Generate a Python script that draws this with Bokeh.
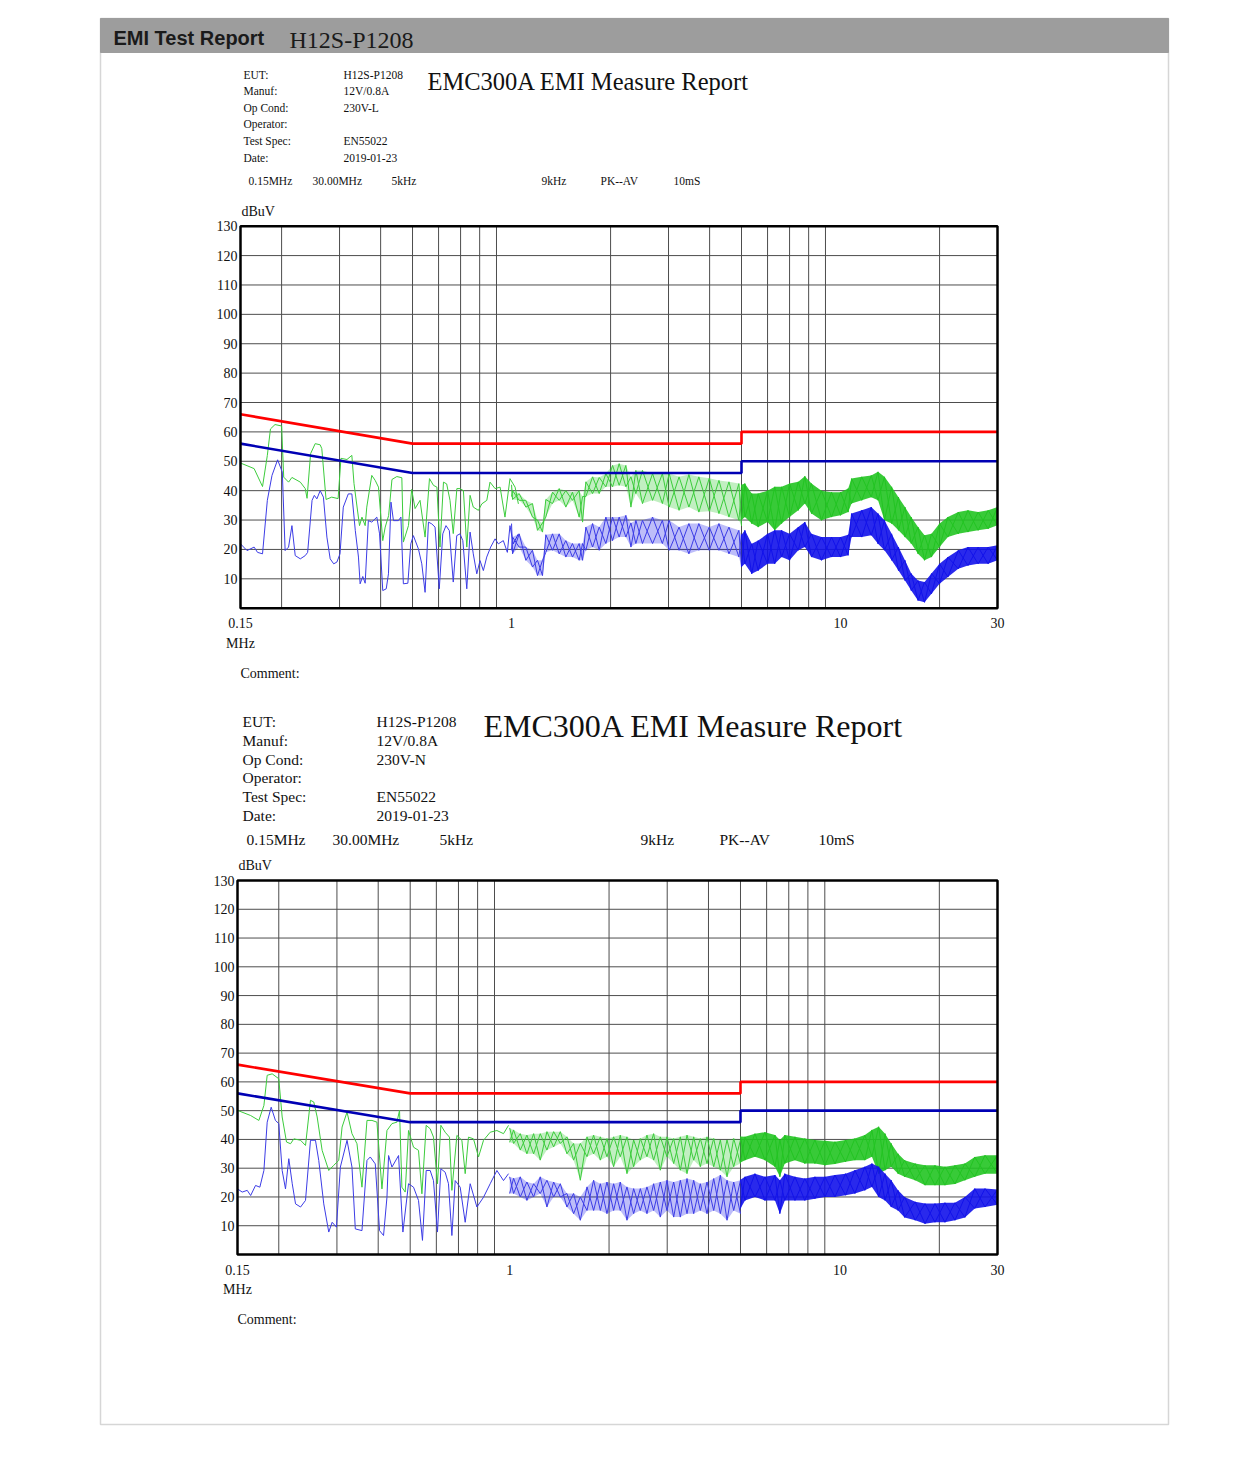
import math
from bokeh.plotting import figure
from bokeh.models import Range1d, LogScale
from bokeh.core.properties import value
from bokeh.embed import file_html
from bokeh.resources import INLINE

# ---------------- data ----------------
# EN55022 class B limits (QP red, AV blue)
LIM_F = [0.15, 0.5, 5.0, 5.0, 30.0]
LIM_QP = [66, 56, 56, 60, 60]
LIM_AV = [56, 46, 46, 50, 50]

GRID_F = [0.2, 0.3, 0.4, 0.5, 0.6, 0.7, 0.8, 0.9, 2, 3, 4, 5, 6, 7, 8, 9, 20]
GRID_DB = [10, 20, 30, 40, 50, 60, 70, 80, 90, 100, 110, 120]
Y_TICKS = [10, 20, 30, 40, 50, 60, 70, 80, 90, 100, 110, 120, 130]
X_TICKS = [0.15, 1, 10, 30]
X_TICK_LABELS = ["0.15", "1", "10", "30"]

# ---- chart 1 (230V-L): 0.15-1 MHz single sweeps ----
G1_F = [0.15, 0.157, 0.165, 0.175, 0.181, 0.185, 0.191, 0.200, 0.203, 0.210, 0.215, 0.228, 0.236, 0.239,
        0.245, 0.253, 0.262, 0.265, 0.273, 0.284, 0.297, 0.303, 0.316, 0.327, 0.332, 0.345, 0.351, 0.359,
        0.363, 0.376, 0.385, 0.394, 0.406, 0.413, 0.423, 0.433, 0.448, 0.464, 0.469, 0.486, 0.497, 0.509,
        0.527, 0.546, 0.563, 0.579, 0.593, 0.606, 0.621, 0.635, 0.650, 0.665, 0.682, 0.697, 0.714, 0.731,
        0.748, 0.765, 0.793, 0.812, 0.841, 0.860, 0.891, 0.923, 0.955, 0.989, 1.025, 1.049]
G1_V = [49.4, 48.5, 47.5, 41.4, 52, 61, 62.5, 62, 44.6, 42.9, 44.5, 42.9, 40.7, 37.4,
        52.6, 56, 55.6, 54.3, 37, 37.8, 37.3, 51, 50.6, 52, 42.4, 28.1, 31, 28.1,
        34.4, 45.2, 43.5, 41.2, 23, 27.6, 31.5, 43.8, 44.8, 44.4, 22.5, 28.1, 40.4, 33.9,
        36.7, 24.2, 44.1, 41.8, 41.2, 20.8, 42.9, 42.3, 36.7, 25.4, 40.7, 40.7, 40, 20.8,
        38.4, 34.4, 33.3, 35.5, 36.7, 42.9, 40.7, 41.2, 31, 44.1, 41.2, 35.5]
B1_F = [0.15, 0.157, 0.165, 0.169, 0.175, 0.181, 0.187, 0.1945, 0.201, 0.205, 0.210, 0.215, 0.220, 0.228,
        0.236, 0.240, 0.2475, 0.2515, 0.256, 0.262, 0.268, 0.2746, 0.281, 0.288, 0.2945, 0.301, 0.308, 0.319,
        0.327, 0.335, 0.3425, 0.3465, 0.353, 0.359, 0.367, 0.376, 0.3895, 0.397, 0.406, 0.416, 0.4225, 0.430,
        0.4375, 0.453, 0.461, 0.469, 0.484, 0.494, 0.503, 0.521, 0.5335, 0.546, 0.559, 0.572, 0.5855, 0.603,
        0.618, 0.632, 0.647, 0.665, 0.6815, 0.697, 0.711, 0.731, 0.748, 0.765, 0.784, 0.802, 0.821, 0.8405,
        0.864, 0.891, 0.9115, 0.944, 0.971, 0.989, 1.012, 1.049]
B1_V = [21.9, 19.6, 20.8, 19, 18.5, 36.7, 45.2, 50.5, 46.3, 19.6, 20.8, 28.1, 17.9, 16.8,
        17.9, 19, 36.7, 38.4, 37.2, 40, 37.8, 24.2, 16.8, 15.1, 15.7, 18.5, 34.4, 38.9,
        38.9, 26.4, 17.4, 8.3, 10.8, 8.5, 29.8, 29.3, 31, 25.3, 6, 6.6, 11.7, 36.1,
        29.8, 29.8, 31, 8.3, 8.5, 21.9, 24.7, 20.2, 15.1, 5.4, 29.3, 28.7, 27.6, 6.6,
        25.3, 28.1, 26.4, 8.9, 24.7, 25.3, 23, 6.6, 25.9, 18.5, 11.7, 16.2, 12.8, 17.4,
        20.8, 23.6, 21.9, 23, 19, 28.1, 21.9, 25.3]
# chart 1, 1-5 MHz: upper / lower extremes of the noisy sweep
A1_F = [1.0, 1.007, 1.055, 1.105, 1.158, 1.199, 1.242, 1.271, 1.332, 1.396, 1.462, 1.532, 1.605, 1.644,
        1.682, 1.763, 1.847, 1.935, 2.028, 2.124, 2.226, 2.306, 2.387, 2.500, 2.683, 2.874, 3.014, 3.23,
        3.46, 3.71, 3.99, 4.27, 4.58, 4.91, 5.0]
A1_GHI = [42, 40, 39, 36.7, 35.6, 30, 29, 37, 39.5, 40.7, 40, 39.5, 40, 38, 43, 44.7, 44.5, 45.8, 48.6, 49.2,
          48.6, 44.7, 46.9, 46.9, 45.8, 45.8, 45.8, 44.7, 45.5, 44.7, 44.2, 43.5, 43, 42.4, 40]
A1_GLO = [38, 37, 36.7, 34.4, 31, 26.5, 25.9, 31, 35.6, 36.7, 34.4, 36.7, 31, 29.3, 38, 39, 39, 41.3, 41.3,
          41.8, 41.3, 34.4, 39, 35.6, 36.7, 35.6, 34.4, 33.3, 34.4, 32.7, 33, 32.2, 31, 29.9, 28]
A1_BHI = [28.8, 24.2, 25.3, 20.8, 19.7, 16.3, 16.3, 25, 25.3, 25.3, 23, 22, 22, 22, 27.6, 28.8, 27.6, 31, 31,
          31, 31.6, 29, 29.9, 29.9, 31, 29.9, 29.9, 27.6, 28.8, 28.8, 27.6, 28.8, 27.6, 26.5, 25]
A1_BLO = [19.7, 18.5, 20.8, 16.3, 14, 11.1, 11.1, 19, 19.7, 18.5, 17.4, 17.4, 16.3, 16.3, 19.7, 20.8, 19.7,
          22, 23, 24.2, 24.2, 20.8, 22, 22, 22, 22, 19.7, 19.7, 18.5, 19.7, 19.7, 19.7, 18.5, 17.4, 14]
# chart 1, 5-30 MHz: dense band extremes
D1_F = [5.0, 5.12, 5.37, 5.62, 6.0, 6.31, 6.62, 7.0, 7.44, 7.79, 8.16, 8.75, 9.39, 10.0, 10.55, 10.8, 11.6,
        12.4, 13.0, 13.6, 14.3, 15.0, 15.7, 16.4, 17.2, 18.0, 18.9, 20.0, 21.2, 22.8, 24.4, 26.2, 28.1, 30]
D1_GHI = [42, 42.4, 39, 39, 40, 41.3, 41.3, 42.4, 43, 44.9, 42.4, 40, 39.5, 39.5, 40.7, 44.1, 44.7,
          45.2, 46.4, 44.7, 41.3, 37.8, 34.4, 31, 27.6, 24.8, 25.3, 28.8, 31, 32.7, 33.3, 32.7, 33.3, 34.4]
D1_GLO = [30, 31, 28.8, 27.6, 29.3, 26.5, 28.8, 31, 33.3, 35.6, 32.2, 29.9, 31, 31.6, 32.7, 35.6, 36.7,
          37.8, 36.7, 29.9, 28.8, 26.5, 24.2, 22, 18.5, 16.3, 17.4, 20.8, 24.2, 25.3, 25.9, 26.5, 27, 28.2]
D1_BHI = [25, 26.5, 21.9, 23, 25.3, 26.5, 26.5, 25.3, 27.6, 29.3, 25.3, 24.2, 24.2, 24.2, 25, 32.2, 33.3,
          34.4, 32.2, 29.9, 25.3, 20.8, 16.3, 11.8, 9.4, 8.9, 11.8, 15.1, 17.4, 19.7, 20.8, 20.8, 20.8, 21.4]
D1_BLO = [14, 15.1, 11.7, 12.8, 15.1, 15.1, 17.4, 16.3, 19.7, 20.8, 17.4, 16.3, 17.4, 17.4, 18, 24.2, 24.2,
          24.8, 21.9, 19.7, 16.3, 12.8, 9.4, 6, 2.6, 2, 4.9, 8.3, 10.6, 13.4, 14.5, 15.1, 15.1, 16.3]

# ---- chart 2 (230V-N) ----
G2_F = [0.15, 0.1644, 0.1741, 0.1803, 0.1845, 0.1910, 0.2000, 0.2048, 0.2111, 0.2171, 0.2222, 0.2328,
        0.2410, 0.2495, 0.2553, 0.2614, 0.2706, 0.2834, 0.2934, 0.3038, 0.3110, 0.3219, 0.3332, 0.3450,
        0.3572, 0.3699, 0.3830, 0.3965, 0.4106, 0.4252, 0.4403, 0.4558, 0.4642, 0.4719, 0.4829, 0.4942,
        0.5117, 0.5298, 0.5425, 0.5589, 0.5747, 0.5881, 0.6047, 0.6192, 0.6380, 0.6574, 0.6686, 0.6923,
        0.7169, 0.7336, 0.7507, 0.7773, 0.8051, 0.8336, 0.8733, 0.9150, 0.9582, 0.9925]
G2_V = [50.1, 48.3, 46.6, 51.8, 62.3, 62.8, 61.1, 47.8, 39.1, 38.5, 40.2, 39.7,
        37.9, 53.6, 53, 47.8, 36.2, 29.2, 31, 32.7, 44.3, 49.5, 42, 38.5,
        23.4, 46.6, 46.6, 46, 22.8, 43.1, 45.5, 46, 50.1, 23.4, 21.7, 43.1,
        37.3, 36.2, 21.1, 44.9, 43.7, 40.8, 24.6, 44.9, 42.5, 40.8, 22.3, 41.4,
        39.7, 28.1, 40.8, 40.2, 33.9, 39.7, 42.5, 43.1, 42, 44.9]
B2_F = [0.15, 0.155, 0.1605, 0.1644, 0.1701, 0.1753, 0.1803, 0.1845, 0.1897, 0.1954, 0.2000, 0.2048,
        0.2096, 0.2145, 0.2197, 0.2248, 0.2328, 0.2410, 0.2495, 0.2583, 0.2643, 0.2737, 0.2834, 0.2902,
        0.2990, 0.3073, 0.3219, 0.3332, 0.3410, 0.3572, 0.3699, 0.3785, 0.3919, 0.4038, 0.4152, 0.4252,
        0.4300, 0.4403, 0.4610, 0.4752, 0.4942, 0.5117, 0.5298, 0.5447, 0.5589, 0.5747, 0.5881, 0.6047,
        0.6192, 0.6380, 0.6529, 0.6686, 0.6842, 0.7084, 0.7336, 0.7596, 0.7960, 0.8336, 0.8733, 0.9150,
        0.9582, 0.9925]
B2_V = [22.8, 21.7, 22.3, 20.5, 24, 23.4, 29.2, 46, 51.2, 46.6, 45.5, 29.2,
        22.8, 33.3, 24.6, 17.6, 16.5, 18.8, 39.7, 39.7, 32.7, 17.6, 7.8, 11.2,
        9.5, 30.4, 39.7, 30.4, 8.9, 8.3, 32.7, 33.9, 31.5, 8.3, 6.6, 19.9,
        34.4, 30.4, 34.4, 7.8, 24.6, 23.4, 18.8, 4.9, 29.2, 29.2, 25.7, 7.8,
        29.8, 28.6, 24.6, 6.6, 25.7, 23.4, 11.2, 24.6, 16.5, 19.9, 24.6, 29.2,
        25.7, 28.1]
A2_F = [1.0, 1.028, 1.077, 1.128, 1.182, 1.238, 1.297, 1.359, 1.424, 1.491, 1.562, 1.637, 1.715, 1.796,
        1.882, 1.971, 2.065, 2.163, 2.266, 2.374, 2.487, 2.605, 2.729, 2.859, 2.995, 3.138, 3.287, 3.444,
        3.608, 3.779, 3.959, 4.148, 4.345, 4.552, 4.769, 5.0]
A2_GHI = [44, 43.3, 42, 41.5, 42, 42, 42.7, 42.7, 42.7, 40.9, 38.6, 38.6, 40.9, 41.5, 40.9, 40.3, 40.9, 41.5,
          40.9, 39.8, 40.3, 41.5, 42, 40.9, 40.9, 40.3, 40.9, 41.5, 40.9, 40.3, 40.9, 40.3, 39.8, 39.8, 40.3,
          39.8]
A2_GLO = [39, 38.6, 36.3, 35, 35, 32.8, 36.3, 37.4, 38.6, 35, 32.8, 25.8, 34, 35, 32.8, 34, 30.5, 34, 28.1,
          30.5, 32.8, 34, 32.8, 29.3, 34, 31.6, 29.3, 28.1, 32.8, 30.5, 31.6, 30.5, 29.3, 27, 30.5, 31.6]
A2_BHI = [27, 26.5, 27, 25.2, 24.6, 27, 25.8, 25.2, 24.6, 21.2, 21.2, 20, 23.5, 25.8, 24.6, 25.2, 24.6, 25.2,
          23.5, 22.9, 22.9, 23.5, 24.6, 25.2, 25.8, 25.2, 25.8, 26.4, 25.8, 24.6, 25.2, 26.4, 27.6, 25.8, 25.2,
          25.8]
A2_BLO = [21.2, 21.2, 20, 18.8, 20, 21.2, 16.5, 20, 20, 16.5, 14.2, 11.9, 15.3, 15.3, 15.3, 14.2, 15.3, 15.3,
          11.9, 14.2, 15.3, 14.2, 15.3, 13, 15.3, 13, 13, 14.2, 14.2, 15.3, 14.2, 15.3, 14.2, 11.9, 15.3, 14.2]
D2_F = [5.0, 5.16, 5.53, 5.93, 6.36, 6.58, 6.81, 7.31, 7.83, 8.40, 9.01, 9.66, 10.4, 11.1, 11.9, 12.5, 13.1,
        13.7, 14.3, 15.0, 15.7, 16.9, 18.1, 19.4, 20.8, 22.3, 23.9, 25.6, 27.5, 30]
D2_GHI = [41, 40.9, 42, 42.5, 41.5, 39.8, 41.5, 40.9, 40.3, 39.8, 39.5, 39.2, 39.8, 40.3, 41.5, 43.3, 44.4,
          42, 38.6, 35, 32.8, 31.6, 31, 31, 30.5, 31, 31.6, 33.9, 34.5, 34.5]
D2_GLO = [32, 32.8, 34, 32.8, 30.5, 27, 31.6, 32.8, 31.6, 31.6, 31, 31.5, 32.2, 32.8, 32.8, 34, 28.1,
          29.3, 30.5, 28.1, 27, 25.8, 24.1, 24.1, 24.1, 24.5, 25.8, 27, 28.1, 28.1]
D2_BHI = [26, 27, 28.1, 27, 27.6, 25.8, 28.1, 27, 26.4, 27, 27, 27.6, 28.1, 29.3, 30.5, 31.6, 30.5,
          28.1, 25.8, 22.3, 20, 18.3, 17.7, 17.7, 18, 18, 20, 22.9, 22.9, 22.6]
D2_BLO = [16, 18.8, 20, 18.8, 18.8, 14.2, 18.8, 18.8, 18.8, 19.4, 20, 20, 20.6, 21.2, 22.3, 23.5, 20,
          18.8, 16.5, 15.3, 12.9, 11.9, 10.7, 11.2, 11.2, 11.9, 12.9, 16, 16.5, 17.3]

INFO_LABELS = ["EUT:", "Manuf:", "Op Cond:", "Operator:", "Test Spec:", "Date:"]
INFO1_VALUES = ["H12S-P1208", "12V/0.8A", "230V-L", "", "EN55022", "2019-01-23"]
INFO2_VALUES = ["H12S-P1208", "12V/0.8A", "230V-N", "", "EN55022", "2019-01-23"]
PARAMS = ["0.15MHz", "30.00MHz", "5kHz", "9kHz", "PK--AV", "10mS"]

# ---------------- page figure ----------------
W, H = 1236, 1452
OX, OY = 0, 0
p = figure(width=W, height=H, output_backend="svg", toolbar_location=None,
           x_range=Range1d(OX, OX + W), y_range=Range1d(OY + H, OY),
           x_axis_location=None, y_axis_location=None, min_border=0)
p.outline_line_color = None
p.grid.grid_line_color = None
p.background_fill_color = "white"
p.border_fill_color = "white"

SERIF = value("Liberation Serif")
GREEN = "#22c422"
BLUE = "#1212ea"

# page border and header bar
p.quad(left=[100], right=[1168], top=[18], bottom=[1424], fill_color=None,
       line_color="#d6d6d6", line_width=1.5)
p.quad(left=[100], right=[1168], top=[18], bottom=[52], fill_color="#9d9d9d",
       line_color="#9d9d9d")
p.text(x=[113], y=[37], text=["EMI Test Report"], text_font=value("Liberation Sans"),
       text_font_style="bold", text_font_size="20px", text_color="#1a1a1a",
       text_baseline="middle", text_align="left")
p.text(x=[289], y=[39], text=["H12S-P1208"], text_font=SERIF,
       text_font_size="24px", text_color="#1a1a1a", text_baseline="middle", text_align="left")


def zigzags(f, hi, lo):
    """Two crossing sweeps through the read extremes: hi,lo,hi,... and lo,hi,lo,..."""
    ya = [hi[i] if i % 2 == 0 else lo[i] for i in range(len(f))]
    yb = [lo[i] if i % 2 == 0 else hi[i] for i in range(len(f))]
    return ya, yb


def chart(idx, L, R, T, B, info_vals, info_x, info_y, info_dy, info_size, col2_x,
          title_xy, title_size, param_x, param_y, lab_size,
          gf, gv, bf, bv, af, aghi, aglo, abhi, ablo, df, dghi, dglo, dbhi, dblo):
    fr, dr = "f%d" % idx, "d%d" % idx
    k = (R - L) / math.log10(30 / 0.15)
    fs = 10 ** (math.log10(0.15) - (L - OX) / k)
    fe = 10 ** (math.log10(30) + (OX + W - R) / k)
    s = (B - T) / 130.0
    d_bot = 0 - (OY + H - B) / s
    d_top = 130 + (T - OY) / s
    p.extra_x_ranges[fr] = Range1d(fs, fe)
    p.extra_x_scales[fr] = LogScale()
    p.extra_y_ranges[dr] = Range1d(d_bot, d_top)
    kw = dict(x_range_name=fr, y_range_name=dr)

    # info block
    ys = [info_y + i * info_dy for i in range(len(INFO_LABELS))]
    p.text(x=[info_x] * len(ys), y=ys, text=INFO_LABELS, text_font=SERIF,
           text_font_size=info_size, text_baseline="middle", text_align="left", text_color="#111111")
    p.text(x=[col2_x] * len(ys), y=ys, text=info_vals, text_font=SERIF,
           text_font_size=info_size, text_baseline="middle", text_align="left", text_color="#111111")
    p.text(x=[title_xy[0]], y=[title_xy[1]], text=["EMC300A EMI Measure Report"], text_font=SERIF,
           text_font_size=title_size, text_baseline="middle", text_align="left", text_color="#111111")
    p.text(x=param_x, y=[param_y] * len(param_x), text=PARAMS, text_font=SERIF,
           text_font_size=info_size, text_baseline="middle", text_align="left", text_color="#111111")

    # grid
    p.segment(x0=GRID_F, y0=[0] * len(GRID_F), x1=GRID_F, y1=[130] * len(GRID_F),
              line_color="#4d4d4d", line_width=1, **kw)
    p.segment(x0=[0.15] * len(GRID_DB), y0=GRID_DB, x1=[30] * len(GRID_DB), y1=GRID_DB,
              line_color="#4d4d4d", line_width=1, **kw)

    for (lf, lv, ahi, alo, dhi, dlo, col, lcol) in (
            (gf, gv, aghi, aglo, dghi, dglo, GREEN, "#3ccc3c"),
            (bf, bv, abhi, ablo, dbhi, dblo, BLUE, "#3c3ce6")):
        p.line(lf, lv, line_color=lcol, line_width=1, **kw)
        p.varea(x=af, y1=alo, y2=ahi, fill_color=col, fill_alpha=0.28, **kw)
        ya, yb = zigzags(af, ahi, alo)
        p.line(af, ya, line_color=lcol, line_width=1, **kw)
        p.line(af, yb, line_color=lcol, line_width=1, **kw)
        p.varea(x=df, y1=dlo, y2=dhi, fill_color=col, fill_alpha=0.9, **kw)
        ya, yb = zigzags(df, dhi, dlo)
        p.line(df, ya, line_color=col, line_width=1, **kw)
        p.line(df, yb, line_color=col, line_width=1, **kw)

    # limits
    p.line(LIM_F, LIM_QP, line_color="#ff0000", line_width=2.6, **kw)
    p.line(LIM_F, LIM_AV, line_color="#0000b4", line_width=2.6, **kw)

    # frame
    p.quad(left=[0.15], right=[30], bottom=[0], top=[130], fill_color=None,
           line_color="black", line_width=2.5, **kw)

    # axis labels
    p.text(x=[L - 3] * len(Y_TICKS), y=Y_TICKS, text=[str(t) for t in Y_TICKS],
           text_font=SERIF, text_font_size=lab_size, text_baseline="middle", text_align="right",
           text_color="#111111", y_range_name=dr)
    p.text(x=X_TICKS, y=[B + 15] * len(X_TICKS), text=X_TICK_LABELS, text_font=SERIF,
           text_font_size=lab_size, text_baseline="middle", text_align="center",
           text_color="#111111", x_range_name=fr)
    p.text(x=[L], y=[B + 35], text=["MHz"], text_font=SERIF, text_font_size=lab_size,
           text_baseline="middle", text_align="center", text_color="#111111")
    p.text(x=[L + 1], y=[T - 15], text=["dBuV"], text_font=SERIF, text_font_size=lab_size,
           text_baseline="middle", text_align="left", text_color="#111111")
    p.text(x=[L], y=[B + 65], text=["Comment:"], text_font=SERIF, text_font_size=lab_size,
           text_baseline="middle", text_align="left", text_color="#111111")


chart(1, 240, 997, 225.7, 607.7, INFO1_VALUES, 243, 74, 16.6, "11.5px", 343,
      (427, 81), "24.5px", [248, 312, 391, 541, 600, 673], 180, "14px",
      G1_F, G1_V, B1_F, B1_V, A1_F, A1_GHI, A1_GLO, A1_BHI, A1_BLO,
      D1_F, D1_GHI, D1_GLO, D1_BHI, D1_BLO)
chart(2, 237, 997, 880, 1254, INFO2_VALUES, 242, 721, 18.8, "15.5px", 376,
      (483, 725), "32px", [246, 332, 439, 640, 719, 818], 839, "14px",
      G2_F, G2_V, B2_F, B2_V, A2_F, A2_GHI, A2_GLO, A2_BHI, A2_BLO,
      D2_F, D2_GHI, D2_GLO, D2_BHI, D2_BLO)

open("out.html", "w").write(file_html(p, INLINE))
